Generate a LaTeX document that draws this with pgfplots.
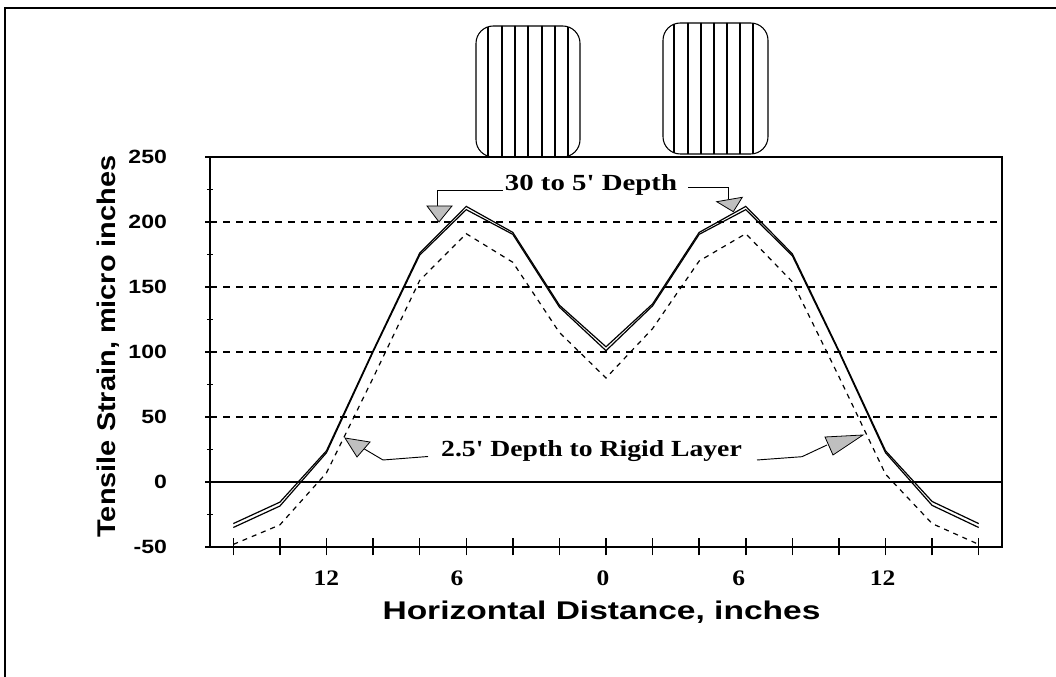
\documentclass[border=0pt]{standalone}
\usepackage{fontspec}
\usepackage{pgfplots}
\pgfplotsset{compat=1.18}
\newfontfamily\sansf{Liberation Sans}
\newfontfamily\seriff{Liberation Serif}
\newcommand{\ytickfont}{\sansf\bfseries\fontsize{14.4pt}{16pt}\selectfont}
\newcommand{\xtickfont}{\seriff\bfseries\fontsize{16.6pt}{18pt}\selectfont}
\newcommand{\labfont}{\sansf\bfseries\fontsize{19.2pt}{22pt}\selectfont}
\newcommand{\annfont}{\seriff\bfseries\fontsize{17.3pt}{20pt}\selectfont}
\newcommand{\yl}[1]{\scalebox{1.2}[1]{\ytickfont #1}}
\newcommand{\xl}[1]{\scalebox{1.15}[1]{\xtickfont #1}}

\begin{document}
\begin{tikzpicture}
\useasboundingbox (0,0) rectangle (792pt,507.75pt);

\begin{axis}[
    at={(157.5pt,97.5pt)}, anchor=south west,
    scale only axis, width=594pt, height=292.5pt,
    xmin=-17, xmax=17, ymin=-50, ymax=250,
    axis line style={line width=2pt},
    tick align=center,
    xtick pos=bottom, ytick pos=left,
    xtick={-16,-14,...,16}, xticklabels={},
    xtick style={/pgfplots/major tick length=12.75pt, line width=1.1pt, black},
    ytick={-50,0,...,250},
    yticklabels={\yl{-50},\yl{0},\yl{50},\yl{100},\yl{150},\yl{200},\yl{250}},
    minor ytick={-25,25,...,225},
    ytick style={/pgfplots/major tick length=7.5pt, /pgfplots/minor tick length=4.5pt, line width=1.1pt, black},
    ymajorgrids,
    major grid style={black, line width=1pt, dash pattern=on 5.25pt off 4.5pt},
    yticklabel style={anchor=east, inner sep=0pt, xshift=-30pt},
    xticklabel style={anchor=base, inner sep=0pt, yshift=-27pt},
    extra x ticks={-12,-6.4,-0.13,5.7,11.87},
    extra x tick labels={\xl{12},\xl{6},\xl{0},\xl{6},\xl{12}},
    extra x tick style={xtick style={draw=none}},
]
% 2.5' depth to rigid layer
\addplot[black, line width=0.9pt, dash pattern=on 3.75pt off 3.75pt] coordinates {
    (-16,-48) (-14,-33) (-12,7) (-10,80) (-8,155) (-6,191) (-4,169) (-2,115)
    (0,80) (2,118) (4,170) (6,191) (8,154) (10,81) (12,6) (14,-32) (16,-48)
};
% 5' depth
\addplot[black, line width=0.9pt] coordinates {
    (-16,-35) (-14,-18.5) (-12,22.5) (-10,100) (-8,174.5) (-6,209.5) (-4,190.5) (-2,134.5)
    (0,101) (2,135.5) (4,190.5) (6,209.5) (8,174) (10,100) (12,22.5) (14,-18) (16,-35)
};
% 30' depth
\addplot[black, line width=0.9pt] coordinates {
    (-16,-32) (-14,-15.5) (-12,24) (-10,101) (-8,176) (-6,212) (-4,192) (-2,136)
    (0,104) (2,137) (4,192) (6,212) (8,175.5) (10,101) (12,24) (14,-15) (16,-32)
};
\draw[line width=1.6pt] (axis cs:-17,0) -- (axis cs:17,0);
\end{axis}

% everything below in reference pixel units (y downward)
\begin{scope}[x=0.75pt, y=-0.75pt, yshift=507.75pt]
% outer frame
\draw[line width=1.5pt] (5,677) -- (5,8) -- (1060,8);

% tyres
\begin{scope}
  \clip[rounded corners=13pt] (476,26) rectangle (580,157);
  \foreach \x in {488,502,515,528,542,555,568} \draw[line width=0.8pt] (\x,20) -- (\x,160);
\end{scope}
\draw[line width=0.8pt, rounded corners=13pt] (476,26) rectangle (580,157);
\begin{scope}
  \clip[rounded corners=13pt] (663,23) rectangle (768,154);
  \foreach \x in {674,688,701,714,727,740,753} \draw[line width=0.8pt] (\x,20) -- (\x,160);
\end{scope}
\draw[line width=0.8pt, rounded corners=13pt] (663,23) rectangle (768,154);

% top annotation
\node[anchor=base, inner sep=0pt] at (591,190.7) {\scalebox{1.25}[1]{\annfont 30 to 5\textquotesingle{} Depth}};
\draw[line width=0.7pt] (503,190.5) -- (437,190.5) -- (437,206);
\draw[line width=0.6pt, fill=black!25] (427,206) -- (452,206) -- (439,222) -- cycle;
\draw[line width=0.7pt] (688,187.3) -- (728,187.3) -- (728,199);
\draw[line width=0.6pt, fill=black!25] (716.7,201.7) -- (742.3,197.3) -- (733.3,211.7) -- cycle;

% bottom annotation
\node[anchor=base, inner sep=0pt] at (591.5,457) {\scalebox{1.2}[1]{\annfont 2.5\textquotesingle{} Depth to Rigid Layer}};
\draw[line width=0.7pt] (361,447) -- (383,460) -- (428,456.5);
\draw[line width=0.6pt, fill=black!25] (345,438) -- (370,442) -- (357,457) -- cycle;
\draw[line width=0.7pt] (827,445) -- (802,456.7) -- (757,460);
\draw[line width=0.6pt, fill=black!25] (825,437) -- (863,435) -- (833,455) -- cycle;

% axis titles
\node[anchor=base, inner sep=0pt] at (601.5,620) {\scalebox{1.31}[1]{\labfont Horizontal Distance, inches}};
\node[anchor=base, inner sep=0pt, rotate=90] at (115,346.5) {\scalebox{1.13}[1]{\labfont Tensile Strain, micro inches}};
\end{scope}
\end{tikzpicture}
\end{document}
